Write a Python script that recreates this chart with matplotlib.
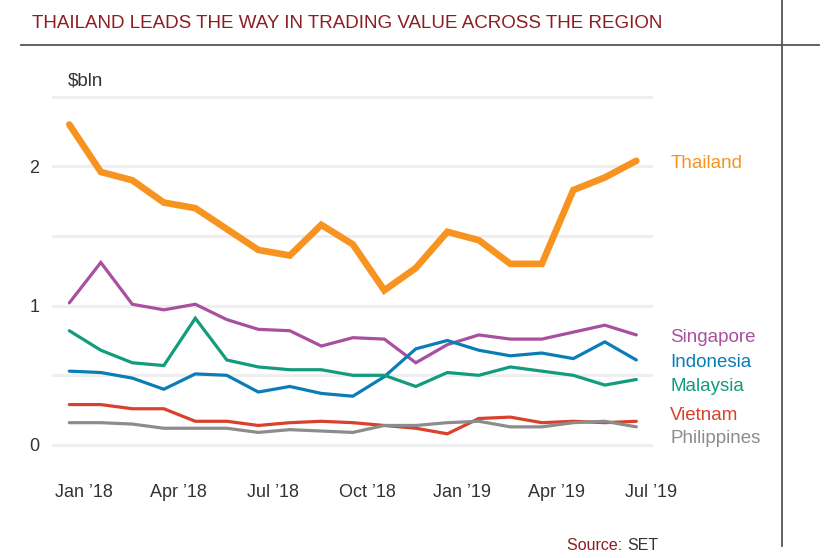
import matplotlib
matplotlib.use("Agg")
import matplotlib.pyplot as plt
import matplotlib.transforms as mtransforms
from matplotlib.lines import Line2D

# monthly trading value, $bln (Jan 2018 .. Jul 2019)
months = list(range(19))
tick_pos = [0, 3, 6, 9, 12, 15, 18]
tick_labels = ["Jan \u201918", "Apr \u201918", "Jul \u201918", "Oct \u201918",
               "Jan \u201919", "Apr \u201919", "Jul \u201919"]

thailand = [2.30, 1.96, 1.90, 1.74, 1.70, 1.55, 1.40, 1.36, 1.58, 1.44,
            1.11, 1.27, 1.53, 1.47, 1.30, 1.30, 1.83, 1.92, 2.04]
singapore = [1.02, 1.31, 1.01, 0.97, 1.01, 0.90, 0.83, 0.82, 0.71, 0.77,
             0.76, 0.59, 0.72, 0.79, 0.76, 0.76, 0.81, 0.86, 0.79]
indonesia = [0.53, 0.52, 0.48, 0.40, 0.51, 0.50, 0.38, 0.42, 0.37, 0.35,
             0.49, 0.69, 0.75, 0.68, 0.64, 0.66, 0.62, 0.74, 0.61]
malaysia = [0.82, 0.68, 0.59, 0.57, 0.91, 0.61, 0.56, 0.54, 0.54, 0.50,
            0.50, 0.42, 0.52, 0.50, 0.56, 0.53, 0.50, 0.43, 0.47]
vietnam = [0.29, 0.29, 0.26, 0.26, 0.17, 0.17, 0.14, 0.16, 0.17, 0.16,
           0.14, 0.12, 0.08, 0.19, 0.20, 0.16, 0.17, 0.16, 0.17]
philippines = [0.16, 0.16, 0.15, 0.12, 0.12, 0.12, 0.09, 0.11, 0.10, 0.09,
               0.14, 0.14, 0.16, 0.17, 0.13, 0.13, 0.16, 0.17, 0.13]

names = ["Thailand", "Singapore", "Indonesia", "Malaysia", "Vietnam", "Philippines"]
series = [thailand, singapore, indonesia, malaysia, vietnam, philippines]
colors = ["#f7931e", "#a8509f", "#0b7db6", "#129b7c", "#d9412c", "#8c8c8c"]
widths = [4.8, 2.3, 2.3, 2.3, 2.3, 2.3]
# label y positions (data units) for the right-hand labels
label_y = [2.02, 0.77, 0.59, 0.42, 0.21, 0.05]

plt.rcParams['font.family'] = ['Liberation Sans', 'DejaVu Sans']

fig = plt.figure(figsize=(8.4, 5.58), dpi=100)
ax = fig.add_axes([0.0619, 0.1776, 0.7155, 0.6616])

for vals, c, w in zip(series, colors, widths):
    ax.plot(months, vals, color=c, lw=w, solid_capstyle='round',
            solid_joinstyle='miter', zorder=3)

ax.set_xlim(-0.55, 18.53)
ax.set_ylim(-0.1, 2.55)
for g in [0, 0.5, 1, 1.5, 2, 2.5]:
    ax.axhline(g, color="#efefef", lw=2.2, zorder=1)

for sp in ax.spines.values():
    sp.set_visible(False)
ax.tick_params(length=0)
ax.set_yticks([0, 1, 2])
ax.set_yticklabels(["0", "1", "2"], fontsize=13, color="#333333")
ax.tick_params(axis='y', pad=9)
ax.set_xticks(tick_pos)
ax.set_xticklabels(tick_labels, fontsize=13, color="#333333")
ax.tick_params(axis='x', pad=18)
offset = mtransforms.ScaledTranslation(15 / 100, 0, fig.dpi_scale_trans)
for lab in ax.get_xticklabels():
    lab.set_transform(lab.get_transform() + offset)

for name, c, ly in zip(names, colors, label_y):
    ax.text(18.53 + 0.55, ly, name, color=c, fontsize=13.5, va='center', ha='left')

fig.text(68 / 840, 1 - 81 / 558, "$bln", fontsize=13.5, color="#333333", va='center')

fig.text(32 / 840, 1 - 24 / 558,
         "THAILAND LEADS THE WAY IN TRADING VALUE ACROSS THE REGION",
         fontsize=13.5, color="#8c1d22", va='center', ha='left')

fig.add_artist(Line2D([21 / 840, 819 / 840], [1 - 44.5 / 558, 1 - 44.5 / 558],
                      color="#555555", lw=1.3))
fig.add_artist(Line2D([782 / 840, 782 / 840], [1, 1 - 546 / 558],
                      color="#555555", lw=1.3))

fig.text(627 / 840, 1 - 545 / 558, "Source: ", fontsize=11.5, color="#8c1d22",
         va='center', ha='right')
fig.text(627 / 840, 1 - 545 / 558, "SET", fontsize=11.5, color="#333333",
         va='center', ha='left')

fig.savefig("out.png", dpi=100)
